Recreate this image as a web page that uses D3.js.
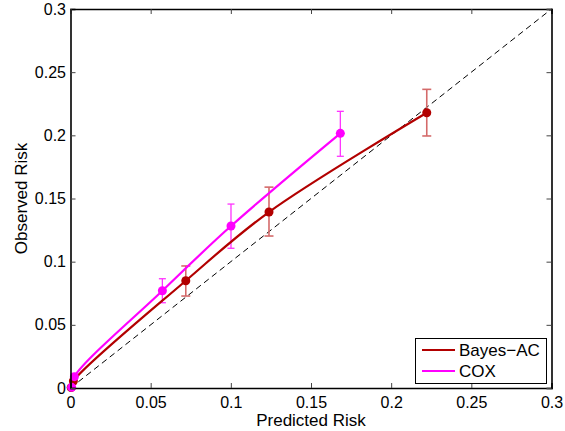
<!DOCTYPE html>
<html>
<head>
<meta charset="utf-8">
<script src="https://cdn.jsdelivr.net/npm/d3@7/dist/d3.min.js"></script>
<style>
  html, body { margin: 0; padding: 0; background: #fff; }
  svg { display: block; font-family: "Liberation Sans", Arial, sans-serif; }
</style>
</head>
<body>
<svg id="chart" width="565" height="431"></svg>
<script>
// Calibration data: predicted vs observed risk per risk group
const bayesPred = [0.0004, 0.0018, 0.0719, 0.1238, 0.2222];
const bayesObs  = [0.0003, 0.0055, 0.0849, 0.1393, 0.2179];
const bayesLow  = [null, null, 0.0728, 0.1203, 0.1995];
const bayesHigh = [null, null, 0.0966, 0.1590, 0.2364];

const coxPred = [0.0007, 0.0024, 0.0573, 0.1001, 0.1683];
const coxObs  = [0.0005, 0.0090, 0.0770, 0.1282, 0.2016];
const coxLow  = [null, null, 0.0675, 0.1106, 0.1834];
const coxHigh = [null, null, 0.0865, 0.1456, 0.2190];

const tickValues = [0, 0.05, 0.1, 0.15, 0.2, 0.25, 0.3];
const tickLabels = ["0", "0.05", "0.1", "0.15", "0.2", "0.25", "0.3"];
const seriesNames = ["Bayes\u2212AC", "COX"];
const seriesColors = ["#b20000", "#ff00ff"];
const errColors = ["#d46a6a", "#ff33ff"];

const TICK_FONT = 16, LABEL_FONT = 17;
const svg = d3.select("#chart");
const plotL = 70.5, plotR = 551.5, plotT = 9, plotB = 388;

const x = d3.scaleLinear().domain([0, 0.3]).range([plotL, plotR]);
const y = d3.scaleLinear().domain([0, 0.3]).range([plotB, plotT]);

// reference diagonal
svg.append("line")
  .attr("x1", x(0)).attr("y1", y(0)).attr("x2", x(0.3)).attr("y2", y(0.3))
  .attr("stroke", "#000").attr("stroke-width", 1)
  .attr("stroke-dasharray", "6,4");

const series = [
  { pred: bayesPred, obs: bayesObs, lo: bayesLow, hi: bayesHigh, cap: 4.5, ew: 1.6 },
  { pred: coxPred, obs: coxObs, lo: coxLow, hi: coxHigh, cap: 3.5, ew: 1.3 }
];

// error bars
series.forEach((s, k) => {
  const g = svg.append("g");
  s.pred.forEach((p, i) => {
    if (s.lo[i] == null) return;
    const cx = x(p);
    g.append("line").attr("x1", cx).attr("x2", cx)
      .attr("y1", y(s.lo[i])).attr("y2", y(s.hi[i]))
      .attr("stroke", errColors[k]).attr("stroke-width", s.ew);
    [s.lo[i], s.hi[i]].forEach(v => {
      g.append("line").attr("x1", cx - s.cap).attr("x2", cx + s.cap)
        .attr("y1", y(v)).attr("y2", y(v))
        .attr("stroke", errColors[k]).attr("stroke-width", s.ew);
    });
  });
});

// smooth calibration curves
const line = d3.line().x(d => x(d[0])).y(d => y(d[1])).curve(d3.curveCatmullRom.alpha(0.5));
series.forEach((s, k) => {
  svg.append("path")
    .attr("d", line(s.pred.map((p, i) => [p, s.obs[i]])))
    .attr("fill", "none").attr("stroke", seriesColors[k]).attr("stroke-width", 2.2);
});

// markers
series.forEach((s, k) => {
  svg.append("g").selectAll("circle").data(s.pred).join("circle")
    .attr("cx", (d) => x(d)).attr("cy", (d, i) => y(s.obs[i]))
    .attr("r", 4.5).attr("fill", seriesColors[k]);
});

// axes with inward ticks on all four sides
const fmt = (d) => tickLabels[tickValues.indexOf(d)];
const axB = svg.append("g").attr("transform", `translate(0,${plotB})`)
  .call(d3.axisBottom(x).tickValues(tickValues).tickSize(-5).tickPadding(9).tickFormat(fmt));
const axL = svg.append("g").attr("transform", `translate(${plotL},0)`)
  .call(d3.axisLeft(y).tickValues(tickValues).tickSize(-5).tickPadding(4.5).tickFormat(fmt));
const axT = svg.append("g").attr("transform", `translate(0,${plotT})`)
  .call(d3.axisTop(x).tickValues(tickValues).tickSize(-5).tickFormat(""));
const axR = svg.append("g").attr("transform", `translate(${plotR},0)`)
  .call(d3.axisRight(y).tickValues(tickValues).tickSize(-5).tickFormat(""));
[axB, axL, axT, axR].forEach(a => {
  a.select(".domain").attr("stroke", "#000").attr("stroke-width", 1.6);
  a.selectAll(".tick line").attr("stroke", "#444").attr("stroke-width", 1);
  a.selectAll("text").attr("font-size", TICK_FONT).attr("fill", "#000")
    .attr("font-family", "Liberation Sans, Arial, sans-serif");
});

// axis titles
svg.append("text").attr("x", (plotL + plotR) / 2).attr("y", 426)
  .attr("text-anchor", "middle").attr("font-size", LABEL_FONT).text("Predicted Risk");
svg.append("text").attr("transform", `translate(26.5,${(plotT + plotB) / 2}) rotate(-90)`)
  .attr("text-anchor", "middle").attr("font-size", LABEL_FONT).text("Observed Risk");

// legend
const lg = svg.append("g");
lg.append("rect").attr("x", 415.5).attr("y", 338.5).attr("width", 131).attr("height", 45)
  .attr("fill", "#fff").attr("stroke", "#000").attr("stroke-width", 1);
seriesNames.forEach((name, i) => {
  const ly = 350 + i * 21;
  lg.append("line").attr("x1", 422).attr("x2", 455).attr("y1", ly).attr("y2", ly)
    .attr("stroke", seriesColors[i]).attr("stroke-width", 2);
  lg.append("text").attr("x", 459).attr("y", ly + 6).attr("font-size", LABEL_FONT).text(name);
});
</script>
</body>
</html>
